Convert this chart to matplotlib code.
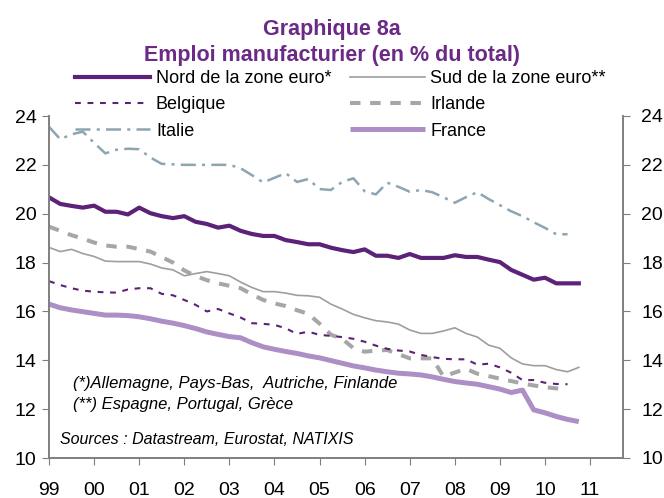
import numpy as np
import pandas as pd
import matplotlib
matplotlib.use('Agg')
import matplotlib.pyplot as plt

plt.rcParams['font.family'] = ['Liberation Sans', 'DejaVu Sans']

# quarterly data, 1999Q1 - 2010Q4
quarters = pd.period_range('1999Q1', '2010Q4', freq='Q')

nord = [20.67, 20.40, 20.32, 20.25,
        20.33, 20.08, 20.08, 19.97,
        20.25, 20.02, 19.90, 19.82,
        19.90, 19.67, 19.58, 19.43,
        19.51, 19.30, 19.17, 19.09,
        19.09, 18.92, 18.84, 18.75,
        18.75, 18.61, 18.51, 18.43,
        18.54, 18.28, 18.28, 18.19,
        18.35, 18.19, 18.19, 18.19,
        18.30, 18.23, 18.23, 18.12,
        18.02, 17.70, 17.50, 17.30,
        17.38, 17.15, 17.15, 17.15]

sud = [18.62, 18.45, 18.54, 18.37,
       18.25, 18.06, 18.04, 18.04,
       18.04, 17.94, 17.78, 17.70,
       17.46, 17.55, 17.63, 17.55,
       17.46, 17.20, 16.98, 16.81,
       16.81, 16.75, 16.66, 16.64,
       16.58, 16.30, 16.10, 15.88,
       15.74, 15.62, 15.57, 15.48,
       15.24, 15.10, 15.10, 15.20,
       15.33, 15.10, 14.95, 14.62,
       14.49, 14.10, 13.85, 13.78,
       13.78, 13.62, 13.53, 13.71]

belgique = [17.24, 17.08, 16.95, 16.85,
            16.81, 16.78, 16.77, 16.90,
            16.95, 16.95, 16.72, 16.66,
            16.47, 16.27, 16.00, 16.10,
            15.92, 15.75, 15.52, 15.49,
            15.45, 15.31, 15.08, 15.17,
            15.04, 15.00, 14.95, 14.88,
            14.76, 14.60, 14.47, 14.40,
            14.36, 14.22, 14.13, 14.06,
            14.04, 14.04, 13.82, 13.86,
            13.71, 13.49, 13.19, 13.19,
            13.08, 13.03, 13.02, np.nan]

irlande = [19.47, 19.30, 19.12, 18.98,
           18.82, 18.70, 18.65, 18.65,
           18.55, 18.45, 18.22, 18.00,
           17.68, 17.45, 17.28, 17.15,
           17.05, 16.95, 16.70, 16.47,
           16.33, 16.22, 16.05, 15.90,
           15.50, 15.05, 14.88, 14.50,
           14.35, 14.40, 14.42, 14.25,
           14.08, 14.08, 14.08, 13.33,
           13.50, 13.65, 13.45, 13.35,
           13.25, 13.15, 13.05, 12.97,
           12.90, 12.85, 12.80, np.nan]

italie = [23.56, 23.05, 23.25, 23.36,
          22.90, 22.47, 22.62, 22.66,
          22.64, 22.30, 22.04, 22.02,
          22.00, 22.00, 22.00, 22.00,
          22.00, 21.86, 21.58, 21.28,
          21.47, 21.66, 21.30, 21.42,
          21.01, 20.97, 21.30, 21.45,
          20.92, 20.79, 21.27, 21.10,
          20.90, 20.97, 20.88, 20.67,
          20.45, 20.68, 20.88, 20.60,
          20.35, 20.10, 19.90, 19.65,
          19.42, 19.16, 19.16, np.nan]

france = [16.30, 16.15, 16.06, 15.99,
          15.92, 15.85, 15.85, 15.83,
          15.78, 15.70, 15.60, 15.52,
          15.42, 15.30, 15.16, 15.06,
          14.97, 14.92, 14.72, 14.55,
          14.45, 14.36, 14.28, 14.18,
          14.10, 13.99, 13.88, 13.77,
          13.69, 13.60, 13.53, 13.47,
          13.44, 13.40, 13.32, 13.22,
          13.13, 13.07, 13.02, 12.92,
          12.82, 12.68, 12.78, 11.97,
          11.85, 11.70, 11.58, 11.49]

year_ticks = list(range(1999, 2012))
year_labels = ['99', '00', '01', '02', '03', '04', '05', '06', '07', '08', '09', '10', '11']
y_ticks = [10, 12, 14, 16, 18, 20, 22, 24]

purple = '#5C2178'
title_col = '#6A2A86'
axis_col = '#7F7F7F'

x = quarters.year + (quarters.quarter - 1) / 4

fig = plt.figure(figsize=(6.64, 4.98), dpi=100)
ax = fig.add_axes([49 / 664, 40 / 498, 574 / 664, 342 / 498])

l_fr, = ax.plot(x, france, color='#AD8FC5', lw=3.6, solid_capstyle='butt', label='France')
l_ir, = ax.plot(x, irlande, color='#A6A6A6', lw=2.9, linestyle=(0, (2.6, 2.4)),
                dash_capstyle='butt', label='Irlande')
l_be, = ax.plot(x, belgique, color=purple, lw=1.5, linestyle=(0, (2.8, 3.2)), label='Belgique')
l_su, = ax.plot(x, sud, color='#9E9E9E', lw=1.2, label='Sud de la zone euro**')
l_it, = ax.plot(x, italie, color='#8DA5B1', lw=1.8, linestyle=(0, (6, 2.5, 1.2, 2.5)), label='Italie')
l_no, = ax.plot(x, nord, color=purple, lw=3.0, label='Nord de la zone euro*')

ax.set_xlim(1999, 2011.73)
ax.set_ylim(10, 24)
ax.set_xticks(year_ticks)
ax.set_xticklabels(year_labels)
ax.set_yticks(y_ticks)
ax.tick_params(axis='x', direction='out', length=5, color=axis_col, labelsize=14, pad=12)
ax.tick_params(axis='y', direction='out', length=5, color=axis_col, labelsize=14, pad=4)

ax2 = ax.twinx()
ax2.set_ylim(10, 24)
ax2.set_yticks(y_ticks)
ax2.tick_params(axis='y', direction='out', length=5, color=axis_col, labelsize=14, pad=8)

for a in (ax, ax2):
    a.spines['top'].set_visible(False)
    for s in ('left', 'right', 'bottom'):
        a.spines[s].set_color(axis_col)
        a.spines[s].set_linewidth(1.2)

fig.text(0.5, 1 - 30 / 498, 'Graphique 8a', ha='center', va='center',
         fontsize=15.5, fontweight='bold', color=title_col)
fig.text(0.5, 1 - 55 / 498, 'Emploi manufacturier (en % du total)', ha='center', va='center',
         fontsize=15.5, fontweight='bold', color=title_col)

ax.legend(handles=[l_no, l_be, l_it, l_su, l_ir, l_fr], ncol=2, loc='upper left',
          bbox_to_anchor=(75 / 664, 1 - 70 / 498), bbox_transform=fig.transFigure,
          frameon=False, fontsize=13, handlelength=4.15, handletextpad=0.33,
          columnspacing=1.0, labelspacing=0.52, borderpad=0, borderaxespad=0)

ax.text(0.042, 0.219, '(*)Allemagne, Pays-Bas,  Autriche, Finlande', transform=ax.transAxes,
        fontsize=12, style='italic', va='center')
ax.text(0.042, 0.155, '(**) Espagne, Portugal, Grèce', transform=ax.transAxes,
        fontsize=12, style='italic', va='center')
ax.text(0.019, 0.053, 'Sources : Datastream, Eurostat, NATIXIS', transform=ax.transAxes,
        fontsize=11.5, style='italic', va='center')

fig.savefig('out.png', dpi=100)
